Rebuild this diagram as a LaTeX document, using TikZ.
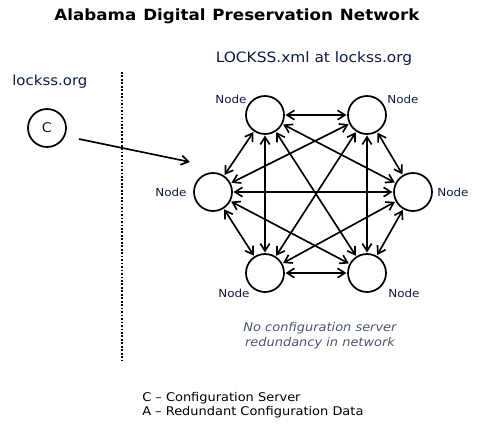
\documentclass[tikz,border=0pt]{standalone}
\usepackage{fontspec}
\setmainfont[FakeStretch=1.08]{DejaVu Sans}
\usetikzlibrary{arrows.meta}
\definecolor{txt}{HTML}{0D1B45}
\definecolor{capt}{HTML}{4A5570}
\begin{document}
\begin{tikzpicture}[x=0.75pt,y=-0.75pt,
  peer/.style={circle,draw,line width=1.3pt,minimum size=28.5pt,inner sep=0pt},
  lbl/.style={text=txt,font=\fontsize{8.3}{10}\selectfont,inner sep=0pt},
  link/.style={{Straight Barb[length=5.5pt,width=7pt]}-{Straight Barb[length=5.5pt,width=7pt]},line width=1.25pt,shorten <=0.5pt,shorten >=0.5pt}]
\useasboundingbox (0,0) rectangle (483,433);
\node[font=\bfseries\fontsize{11.6}{13}\selectfont,inner sep=0pt] (title) at (237,16) {Alabama\hspace{0.45em}Digital\hspace{0.45em}Preservation\hspace{0.45em}Network};
\node[text=txt,font=\fontsize{10.7}{12}\selectfont,inner sep=0pt] (hdr) at (314,59) {LOCKSS.xml at lockss.org};
\node[text=txt,font=\fontsize{10.4}{12}\selectfont,inner sep=0pt,anchor=west] (org) at (12,82) {lockss.org};
\node[peer,text=txt,font=\fontsize{10}{12}\selectfont] (c) at (47,128) {C};
\coordinate (dtop) at (122,72);
\coordinate (dbot) at (122,361);
\draw[line width=1.8pt,dash pattern=on 1.3pt off 1.3pt] (dtop) -- (dbot);
\node[peer] (tl) at (265,115) {};
\node[peer] (tr) at (367,115) {};
\node[peer] (l) at (213,192) {};
\node[peer] (r) at (413,192) {};
\node[peer] (bl) at (265,273) {};
\node[peer] (br) at (367,273) {};
\coordinate (cs) at (79,139);
\coordinate (ce) at (190,162);
\draw[-{Straight Barb[length=5.5pt,width=7pt]},line width=1.25pt] (cs) -- (ce);
\node[lbl] (ltl) at (231,99) {Node};
\node[lbl] (ltr) at (403,99) {Node};
\node[lbl] (ll) at (171,192) {Node};
\node[lbl] (lr) at (453,192) {Node};
\node[lbl] (lbl1) at (234,293) {Node};
\node[lbl] (lbr) at (404,293) {Node};
\foreach \a/\b in {tl/tr,tr/r,r/br,br/bl,bl/l,l/tl,tl/bl,tr/br,l/r,tl/r,tl/br,tr/l,tr/bl,l/br,bl/r}
  \draw[link] (\a) -- (\b);
\node[text=capt,font=\itshape\fontsize{9}{11.2}\selectfont,align=center,inner sep=0pt] (cap) at (320,336) {No configuration server\\redundancy in network};
\node[text=black,font=\fontsize{9}{10.6}\selectfont,align=left,anchor=west,inner sep=0pt] (leg) at (142,405) {C – Configuration Server\\A – Redundant Configuration Data};
\end{tikzpicture}
\end{document}
